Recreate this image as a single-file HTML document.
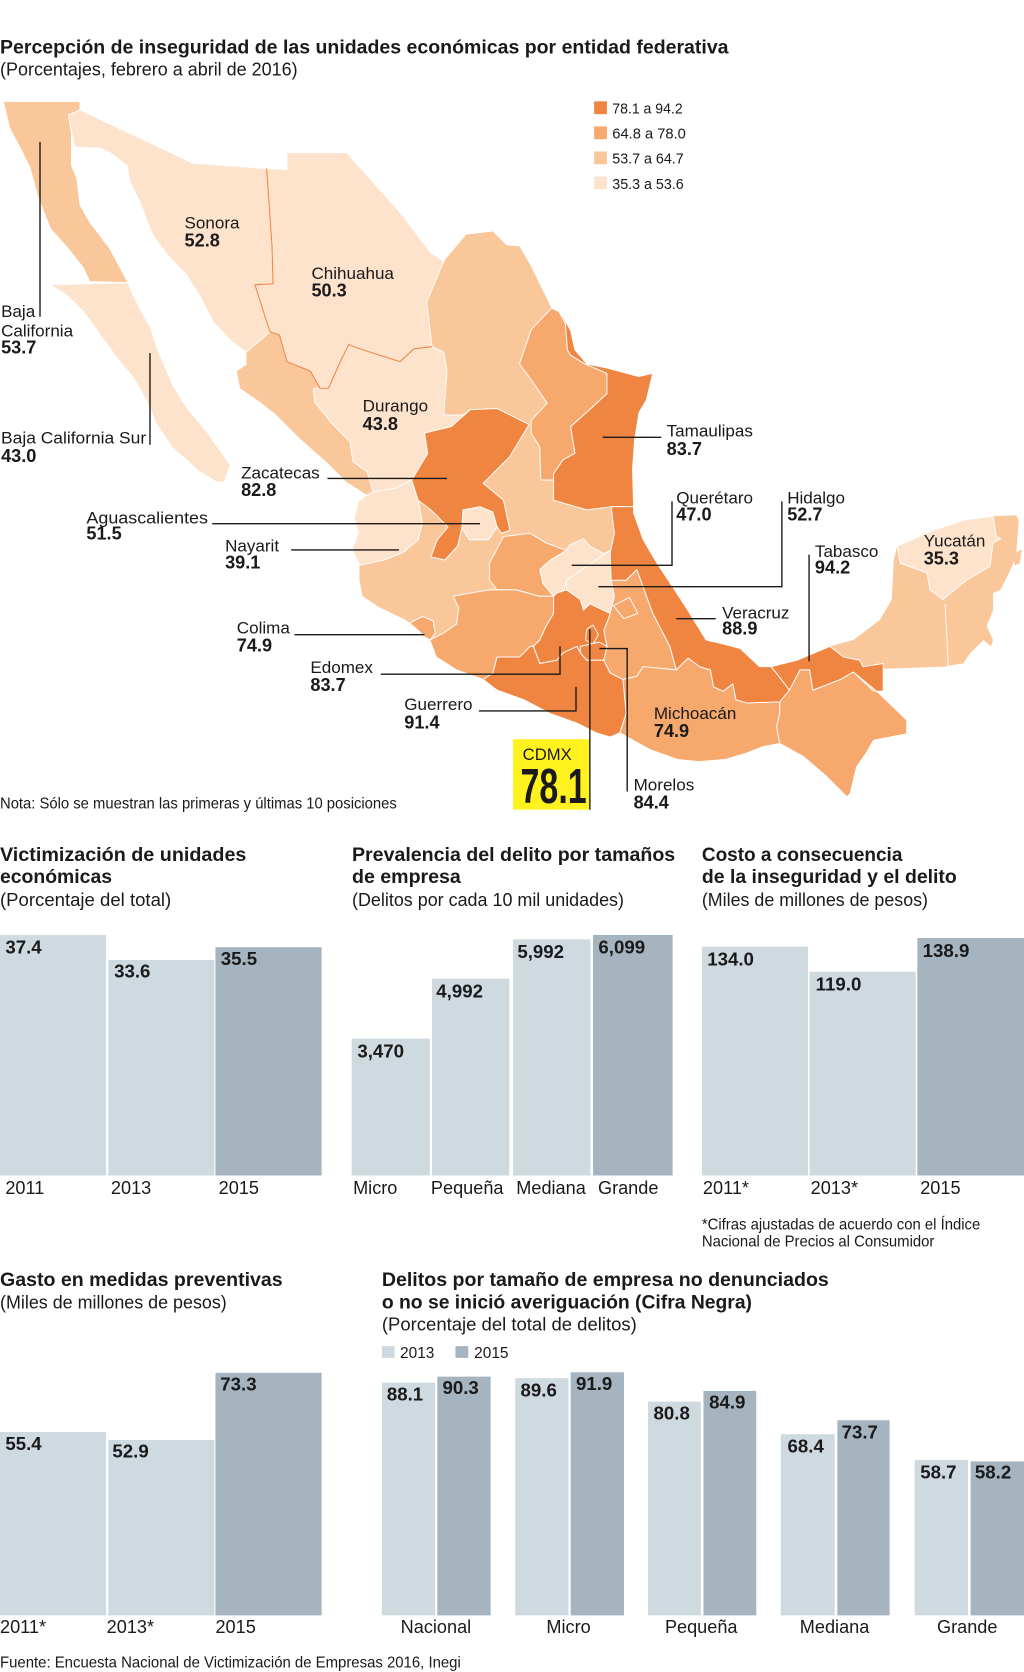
<!DOCTYPE html>
<html><head><meta charset="utf-8">
<style>html,body{margin:0;padding:0;background:#fff;}svg{display:block;}</style>
</head><body>
<svg width="1024" height="1672" viewBox="0 0 960 1567.5" preserveAspectRatio="none" font-family="'Liberation Sans', sans-serif" fill="#1a1a1a">
<rect x="0" y="0" width="960" height="1567.5" fill="#fff"/>

<!-- Titles -->
<text x="0" y="50" font-size="18.5" font-weight="bold" textLength="683" lengthAdjust="spacingAndGlyphs">Percepción de inseguridad de las unidades económicas por entidad federativa</text>
<text x="0" y="71" font-size="17" textLength="279" lengthAdjust="spacingAndGlyphs">(Porcentajes, febrero a abril de 2016)</text>

<!-- Map base (class 3) -->
<g stroke="#fff" stroke-width="0.9" stroke-linejoin="round">
<polygon fill="#F9C79A" stroke="none" points="64,108 75,103 181,153 250,158 269,159 269,143 325,143 375,199 403,236 416,245 437,220 462,217 475,230 487,231 498,250 517,289 524,292 528,297 535,310 539,328 550,341 569,345 599,353 612,350 606,375 599,387 595,412 593,440 594,481 603,506 616,528 641,566 662,600 675,603 694,608 712,625 723,625 747,619 778,606 800,600 812,591 825,581 836,562 838,525 841,512 875,497 906,487 931,484 953,483 955,488 953,516 950,528 944,541 938,553 931,556 931,572 925,587 931,600 929,606 922,600 909,613 903,622 889,624 886,625 828,627 828,648 822,648 850,675 850,688 819,694 812,706 803,719 797,744 794,747 775,728 753,709 731,697 715,700 700,706 680,712 655,714 635,712 610,703 590,692 581,687 572,691 559,687 541,678 516,669 491,656 466,647 453,637 428,628 409,616 403,600 398,597 392,591 380,581 355,569 340,559 337,544 337,530 330,515 336,500 332,485 336,470 344,464 325,452 306,433 281,411 259,389 244,377 225,364 222,348 231,342 231,330 218,321 200,302 187,277 175,258 157,239 143,220 131,189 122,171 119,155 103,143 94,139 70,138"/>
<polygon fill="#F9C79A" stroke="none" points="950,519 958,515 956,528 951,530"/>

<!-- lightest -->
<polygon fill="#FDE3CB" points="64,108 75,103 181,153 250,158 255,231 256,266 239,267 253,311 231,330 218,321 200,302 187,277 175,258 157,239 143,220 131,189 122,171 119,155 103,143 94,139 70,138"/>
<polygon fill="#FDE3CB" points="250,158 269,159 269,143 325,143 375,199 403,236 416,245 400,283 405,325 388,327 375,339 356,333 337,327 327,323 319,339 308,364 300,364 291,348 269,339 262,314 253,311 239,267 256,266 255,231"/>
<polygon fill="#FDE3CB" points="294,364 300,364 308,364 319,339 327,323 337,327 356,333 375,339 388,327 405,325 416,330 419,348 416,389 434,389 441,384 423,400 398,406 401,425 386,450 370,458 350,461 344,442 331,433 328,414 312,398 295,377"/>
<polygon fill="#FDE3CB" points="350,461 370,458 386,450 392,469 396,490 392,506 378,518 360,525 337,530 330,515 336,500 332,485 336,470 344,464"/>
<polygon fill="#FDE3CB" points="47,267 120,265 125,277 131,289 141,307 147,326 162,361 175,382 194,405 216,436 210,452 203,452 187,442 162,420 147,398 138,377 125,354 110,336 94,314 78,292 63,277"/>
<polygon fill="#F9C79A" points="3,95 75,95 75,103 64,108 67,124 67,155 72,167 75,192 84,208 103,233 111,248 120,265 84,264 78,251 63,232 47,214 35,183 28,157 19,139 9,120"/>
<polygon fill="#FDE3CB" points="434,478 450,475 462,480 466,494 458,506 440,506 433,495"/>
<polygon fill="#FDE3CB" points="506,534 516,525 531,516 534,511 547,505 553,512 566,519 572,516 550,531 531,544 528,556 519,559 509,547"/>
<polygon fill="#FDE3CB" points="531,544 550,531 572,516 576,520 576,540 573,544 576,559 572,575 559,569 553,566 547,572 544,562 531,553"/>
<polygon fill="#FDE3CB" points="841,512 875,497 906,487 931,484 934,503 938,505 931,509 928,531 906,544 884,562 872,553 869,537 844,528"/>

<!-- medium -->
<polygon fill="#F6A86D" points="517,289 524,292 530,303 532,328 535,333 548,341 569,350 569,369 554,383 535,400 539,425 528,431 519,444 519,450 507,450 506,419 498,406 498,394 513,378 498,356 487,341 498,309"/>
<polygon fill="#F6A86D" points="459,528 472,503 497,500 512,509 531,516 516,525 506,534 509,547 519,559 506,559 484,553 466,553 459,544"/>
<polygon fill="#F6A86D" points="425,559 441,556 459,553 484,553 506,559 519,559 519,575 512,587 506,600 500,606 497,606 487,616 466,616 462,631 453,637 428,628 409,616 403,600 415,594 428,585 430,570"/>
<polygon fill="#F6A86D" points="384,584 396,578 406,582 408,594 403,600 398,597 392,591"/>
<polygon fill="#F6A86D" points="573,544 587,544 597,534 612,575 628,606 634,628 603,625 597,634 584,637 572,631 566,619 569,606 566,591 570,581 572,575 576,559"/>
<polygon fill="#F6A86D" points="575,568 590,560 598,575 585,580"/>
<polygon fill="#F6A86D" points="572,631 584,637 597,634 603,625 634,628 645,617 656,625 666,628 669,644 678,648 687,641 690,656 700,659 731,658 731,669 728,681 731,697 715,700 700,706 680,712 655,714 635,712 610,703 590,692 581,687 587,669"/>
<polygon fill="#F6A86D" points="731,658 740,647 750,628 759,628 762,647 788,637 800,630 819,648 822,648 850,675 850,688 819,694 812,706 803,719 797,744 794,747 775,728 753,709 731,697 728,681 731,669"/>

<!-- dark -->
<polygon fill="#F08441" points="441,384 466,383 496,398 478,428 453,453 472,469 478,497 470,500 466,494 462,480 450,475 434,478 433,495 429,512 417,525 404,522 410,506 420,494 404,478 392,469 386,450 401,425 398,406 423,400"/>
<polygon fill="#F08441" points="524,292 528,297 535,310 539,328 550,341 569,345 599,353 612,350 606,375 599,387 595,412 593,440 594,475 573,475 550,478 519,469 519,444 528,431 539,425 535,400 554,383 569,369 569,350 548,341 535,333 532,328 530,303"/>
<polygon fill="#F08441" points="573,475 594,475 594,481 603,506 616,528 641,566 662,600 675,603 694,608 712,625 723,625 731,635 740,647 731,658 700,659 690,656 687,641 678,648 669,644 666,628 656,625 645,617 634,628 628,606 612,575 597,534 587,544 573,544 572,519 576,500"/>
<polygon fill="#F08441" points="522,556 531,553 544,562 547,572 553,566 559,569 572,575 570,581 566,591 569,606 566,619 550,619 544,612 541,606 528,612 522,619 506,622 500,606 506,600 512,587 519,575 519,559"/>
<polygon fill="#F08441" points="550,590 556,586 561,595 556,604 549,600"/>
<polygon fill="#F08441" points="544,606 562,602 569,606 566,619 550,619 544,612"/>
<polygon fill="#F08441" points="453,637 462,631 466,616 487,616 497,606 500,606 506,622 522,619 528,612 541,606 544,612 550,619 566,619 572,631 584,637 587,669 581,687 572,691 559,687 541,678 516,669 491,656 466,647"/>
<polygon fill="#F08441" points="723,625 747,619 778,606 791,616 806,619 809,625 828,622 828,648 822,648 800,630 788,637 762,647 759,628 750,628 740,647 731,635"/>
<polyline fill="none" points="886,566 889,624"/>
</g>
<g fill="none" stroke="#F08441" stroke-width="1">
<polyline points="250,158 255,231 256,266 239,267 253,311"/>
<polyline points="253,311 262,314 269,339 291,348 300,364 308,364 319,339 327,323 337,327 356,333 375,339 388,327 405,325"/>
</g>

<!-- Map legend -->
<rect x="557" y="95" width="12" height="12" fill="#F08441"/>
<rect x="557" y="118.5" width="12" height="12" fill="#F6A86D"/>
<rect x="557" y="142" width="12" height="12" fill="#F9C79A"/>
<rect x="557" y="165.5" width="12" height="12" fill="#FDE3CB"/>
<g font-size="14">
<text x="574" y="106.5" textLength="66" lengthAdjust="spacingAndGlyphs">78.1 a 94.2</text>
<text x="574" y="130" textLength="69" lengthAdjust="spacingAndGlyphs">64.8 a 78.0</text>
<text x="574" y="153.5" textLength="67" lengthAdjust="spacingAndGlyphs">53.7 a 64.7</text>
<text x="574" y="177" textLength="67" lengthAdjust="spacingAndGlyphs">35.3 a 53.6</text>
</g>

<!-- Leader lines -->
<g fill="none" stroke="#1a1a1a" stroke-width="1.3">
<path d="M37.5,133 V297"/>
<path d="M140.6,331 V417"/>
<path d="M307,448.5 H419"/>
<path d="M199,491 H450"/>
<path d="M273,515.6 H374"/>
<path d="M565,410 H620"/>
<path d="M536,530 H630 V470"/>
<path d="M561,550 H733 V470"/>
<path d="M758.5,620 V520"/>
<path d="M634,580 H671"/>
<path d="M276,595 H398"/>
<path d="M357,632 H525 V606"/>
<path d="M449,666.5 H540 V644"/>
<path d="M562,608 H588 V742"/>
</g>

<!-- CDMX box -->
<rect x="481" y="693" width="72" height="66" fill="#FFF21F"/>
<path d="M553,590 V759" stroke="#1a1a1a" stroke-width="1.3"/>
<text x="490" y="712.5" font-size="16" textLength="46" lengthAdjust="spacingAndGlyphs">CDMX</text>
<text x="488" y="753" font-size="46" font-weight="bold" textLength="62" lengthAdjust="spacingAndGlyphs">78.1</text>

<!-- Map labels -->
<g font-size="16">
<text x="173" y="214">Sonora</text>
<text x="292" y="261.5">Chihuahua</text>
<text x="1" y="297">Baja</text>
<text x="1" y="315.6">California</text>
<text x="340" y="386">Durango</text>
<text x="1" y="415.6" textLength="136" lengthAdjust="spacingAndGlyphs">Baja California Sur</text>
<text x="625" y="409">Tamaulipas</text>
<text x="226" y="448.5">Zacatecas</text>
<text x="634" y="472">Querétaro</text>
<text x="738" y="472">Hidalgo</text>
<text x="81" y="490.6" textLength="114" lengthAdjust="spacingAndGlyphs">Aguascalientes</text>
<text x="866" y="512.5">Yucatán</text>
<text x="211" y="517">Nayarit</text>
<text x="764" y="522">Tabasco</text>
<text x="677" y="580">Veracruz</text>
<text x="222" y="594">Colima</text>
<text x="291" y="631">Edomex</text>
<text x="379" y="665.6">Guerrero</text>
<text x="613" y="674">Michoacán</text>
<text x="594" y="741">Morelos</text>
</g>
<g font-size="17" font-weight="bold">
<text x="173" y="231">52.8</text>
<text x="292" y="278">50.3</text>
<text x="1" y="331.5">53.7</text>
<text x="340" y="403">43.8</text>
<text x="1" y="433">43.0</text>
<text x="625" y="426.5">83.7</text>
<text x="226" y="465">82.8</text>
<text x="634" y="488">47.0</text>
<text x="738" y="488">52.7</text>
<text x="81" y="506">51.5</text>
<text x="866" y="529">35.3</text>
<text x="211" y="533">39.1</text>
<text x="764" y="537.5">94.2</text>
<text x="677" y="595">88.9</text>
<text x="222" y="611">74.9</text>
<text x="291" y="648">83.7</text>
<text x="379" y="683">91.4</text>
<text x="613" y="691">74.9</text>
<text x="594" y="758">84.4</text>
</g>
<text x="0" y="758" font-size="14.5" textLength="372" lengthAdjust="spacingAndGlyphs">Nota: Sólo se muestran las primeras y últimas 10 posiciones</text>

<!-- Chart titles row 1 -->
<g font-size="18.5" font-weight="bold">
<text x="0" y="807" textLength="231" lengthAdjust="spacingAndGlyphs">Victimización de unidades</text>
<text x="0" y="828" textLength="105" lengthAdjust="spacingAndGlyphs">económicas</text>
<text x="330" y="807" textLength="303" lengthAdjust="spacingAndGlyphs">Prevalencia del delito por tamaños</text>
<text x="330" y="828" textLength="102" lengthAdjust="spacingAndGlyphs">de empresa</text>
<text x="658" y="807" textLength="188" lengthAdjust="spacingAndGlyphs">Costo a consecuencia</text>
<text x="658" y="828" textLength="239" lengthAdjust="spacingAndGlyphs">de la inseguridad y el delito</text>
</g>
<g font-size="17">
<text x="0" y="849.5" textLength="160.5" lengthAdjust="spacingAndGlyphs">(Porcentaje del total)</text>
<text x="330" y="849.5" textLength="255" lengthAdjust="spacingAndGlyphs">(Delitos por cada 10 mil unidades)</text>
<text x="658" y="849.5" textLength="212" lengthAdjust="spacingAndGlyphs">(Miles de millones de pesos)</text>
</g>

<!-- Bars row 1 -->
<g>
<rect x="0" y="876.5" width="99.5" height="225.5" fill="#CFDAE0"/>
<rect x="101.5" y="900" width="99.5" height="202" fill="#CFDAE0"/>
<rect x="202" y="888" width="99.5" height="214" fill="#A5B4BF"/>
<rect x="329.7" y="973.7" width="73.3" height="128.3" fill="#CFDAE0"/>
<rect x="405" y="917.5" width="72.5" height="184.5" fill="#CFDAE0"/>
<rect x="481" y="880.6" width="72.5" height="221.4" fill="#CFDAE0"/>
<rect x="556" y="876.5" width="74.6" height="225.5" fill="#A5B4BF"/>
<rect x="658" y="887.5" width="99.5" height="214.5" fill="#CFDAE0"/>
<rect x="759" y="911" width="99.5" height="191" fill="#CFDAE0"/>
<rect x="860" y="879.4" width="100" height="222.6" fill="#A5B4BF"/>
</g>
<g font-size="17.5" font-weight="bold">
<text x="5" y="893.7">37.4</text>
<text x="107" y="916.6">33.6</text>
<text x="207" y="904.7">35.5</text>
<text x="335" y="991.2">3,470</text>
<text x="409" y="935">4,992</text>
<text x="485" y="898">5,992</text>
<text x="561" y="894">6,099</text>
<text x="663" y="905">134.0</text>
<text x="764.7" y="928.5">119.0</text>
<text x="865" y="897">138.9</text>
</g>
<g font-size="17">
<text x="5" y="1119.4">2011</text>
<text x="104" y="1119.4">2013</text>
<text x="205" y="1119.4">2015</text>
<text x="331" y="1119.4">Micro</text>
<text x="404" y="1119.4">Pequeña</text>
<text x="484" y="1119.4">Mediana</text>
<text x="560.6" y="1119.4">Grande</text>
<text x="659" y="1119.4">2011*</text>
<text x="760" y="1119.4">2013*</text>
<text x="862.7" y="1119.4">2015</text>
</g>
<g font-size="14.5">
<text x="658" y="1152.5" textLength="261" lengthAdjust="spacingAndGlyphs">*Cifras ajustadas de acuerdo con el Índice</text>
<text x="658" y="1168.5" textLength="218" lengthAdjust="spacingAndGlyphs">Nacional de Precios al Consumidor</text>
</g>

<!-- Row 2 titles -->
<g font-size="18.5" font-weight="bold">
<text x="0" y="1205.6" textLength="265" lengthAdjust="spacingAndGlyphs">Gasto en medidas preventivas</text>
<text x="358" y="1205.6" textLength="419" lengthAdjust="spacingAndGlyphs">Delitos por tamaño de empresa no denunciados</text>
<text x="358" y="1226.6" textLength="347" lengthAdjust="spacingAndGlyphs">o no se inició averiguación (Cifra Negra)</text>
</g>
<g font-size="17">
<text x="0" y="1226.6" textLength="212.6" lengthAdjust="spacingAndGlyphs">(Miles de millones de pesos)</text>
<text x="358" y="1247.5" textLength="239" lengthAdjust="spacingAndGlyphs">(Porcentaje del total de delitos)</text>
</g>
<rect x="358" y="1262" width="12" height="11" fill="#CFDAE0"/>
<rect x="427" y="1262" width="12" height="11" fill="#A5B4BF"/>
<g font-size="14.5">
<text x="375" y="1273">2013</text>
<text x="444.5" y="1273">2015</text>
</g>

<!-- Bars row 2 -->
<g>
<rect x="0" y="1342.5" width="99.5" height="171.9" fill="#CFDAE0"/>
<rect x="101.5" y="1350" width="99.5" height="164.4" fill="#CFDAE0"/>
<rect x="202" y="1287" width="99.5" height="227.4" fill="#A5B4BF"/>

<rect x="358" y="1296.2" width="50" height="218.2" fill="#CFDAE0"/>
<rect x="410" y="1290.6" width="50" height="223.8" fill="#A5B4BF"/>
<rect x="483" y="1292" width="50" height="222.4" fill="#CFDAE0"/>
<rect x="535" y="1286.5" width="50" height="227.9" fill="#A5B4BF"/>
<rect x="607.5" y="1314" width="49.5" height="200.4" fill="#CFDAE0"/>
<rect x="659.5" y="1304" width="49.5" height="210.4" fill="#A5B4BF"/>
<rect x="732" y="1344.6" width="50.5" height="169.8" fill="#CFDAE0"/>
<rect x="785" y="1331.5" width="49" height="182.9" fill="#A5B4BF"/>
<rect x="857.5" y="1368.7" width="50" height="145.7" fill="#CFDAE0"/>
<rect x="910" y="1370" width="50" height="144.4" fill="#A5B4BF"/>
</g>
<g font-size="17.5" font-weight="bold">
<text x="5" y="1359.4">55.4</text>
<text x="105.4" y="1366.5">52.9</text>
<text x="206.5" y="1303.5">73.3</text>
<text x="362.7" y="1312.8">88.1</text>
<text x="414.8" y="1307">90.3</text>
<text x="488" y="1309">89.6</text>
<text x="540" y="1303">91.9</text>
<text x="612.7" y="1331">80.8</text>
<text x="664.8" y="1320.5">84.9</text>
<text x="738.3" y="1361.5">68.4</text>
<text x="789" y="1348.5">73.7</text>
<text x="862.7" y="1386">58.7</text>
<text x="914" y="1386">58.2</text>
</g>
<g font-size="17">
<text x="0" y="1531">2011*</text>
<text x="100" y="1531">2013*</text>
<text x="202" y="1531">2015</text>
<text x="408.7" y="1531" text-anchor="middle">Nacional</text>
<text x="533" y="1531" text-anchor="middle">Micro</text>
<text x="657.4" y="1531" text-anchor="middle">Pequeña</text>
<text x="782.4" y="1531" text-anchor="middle">Mediana</text>
<text x="906.8" y="1531" text-anchor="middle">Grande</text>
</g>
<text x="0" y="1563.5" font-size="14.5" textLength="432" lengthAdjust="spacingAndGlyphs">Fuente: Encuesta Nacional de Victimización de Empresas 2016, Inegi</text>
</svg>
</body></html>
